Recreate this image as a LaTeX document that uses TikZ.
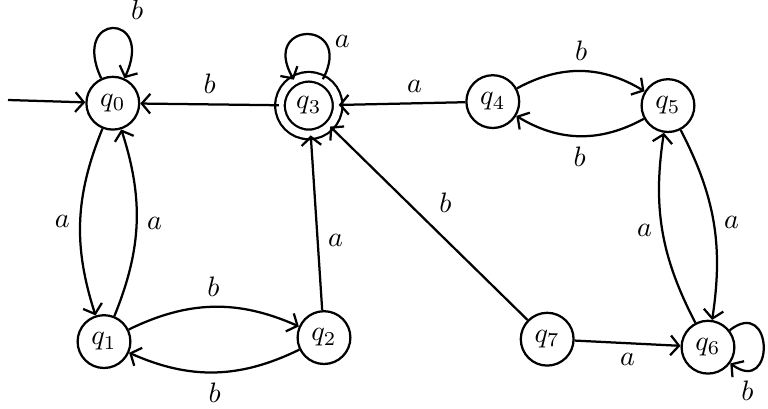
\documentclass[tikz,border=0pt]{standalone}
\usetikzlibrary{arrows.meta}
\begin{document}
\begin{tikzpicture}[thick, >={Straight Barb[length=3pt,width=7pt]},
    stnode/.style={draw, circle, minimum size=0.66cm, inner sep=0pt},
    finalnode/.style={stnode, minimum size=0.72cm, double, double distance=2.6pt},
    selfloop/.style={looseness=1, min distance=#1, max distance=#1}]
  \useasboundingbox (0,0) rectangle (9.6,5.1);

  % states
  \node[stnode] (q0) at (1.41,3.81) {$q_0$};
  \node[finalnode] (q3) at (3.86,3.78) {$q_3$};
  \node[stnode] (q4) at (6.16,3.83) {$q_4$};
  \node[stnode] (q5) at (8.35,3.78) {$q_5$};
  \node[stnode] (q1) at (1.30,0.83) {$q_1$};
  \node[stnode] (q2) at (4.05,0.88) {$q_2$};
  \node[stnode] (q7) at (6.84,0.86) {$q_7$};
  \node[stnode] (q6) at (8.85,0.76) {$q_6$};

  % start
  \coordinate (start) at (0.1,3.85);
  \draw[->] (start) -- (q0);

  % loops
  \draw[->] (q0) to[out=115, in=65, selfloop=0.92cm] node[above right, pos=0.6] {$b$} (q0);
  \draw[->] (q3) to[out=62, in=120, selfloop=0.86cm] node[right, pos=0.3] {$a$} (q3);
  \draw[->] (q6) to[out=38, in=-36, selfloop=0.7cm] node[below, pos=0.85] {$b$} (q6);

  % straight transitions
  \draw[->] (q3) -- node[above] {$b$} (q0);
  \draw[->] (q4) -- node[above, pos=0.4] {$a$} (q3);
  \draw[->] (q2) -- node[right, pos=0.4] {$a$} (q3);
  \draw[->] (q7) -- node[above right] {$b$} (q3);
  \draw[->] (q7) -- node[below] {$a$} (q6);

  % curved transitions
  \draw[->] (q0) to[bend right=20] node[left] {$a$} (q1);
  \draw[->] (q1) to[bend right=20] node[right] {$a$} (q0);
  \draw[->] (q1) to[bend left=25] node[above] {$b$} (q2);
  \draw[->] (q2) to[bend left=25] node[below] {$b$} (q1);
  \draw[->] (q4) to[bend left=30] node[above] {$b$} (q5);
  \draw[->] (q5) to[bend left=30] node[below] {$b$} (q4);
  \draw[->] (q6) to[bend left=18] node[left] {$a$} (q5);
  \draw[->] (q5) to[bend left=18] node[right] {$a$} (q6);
\end{tikzpicture}
\end{document}
